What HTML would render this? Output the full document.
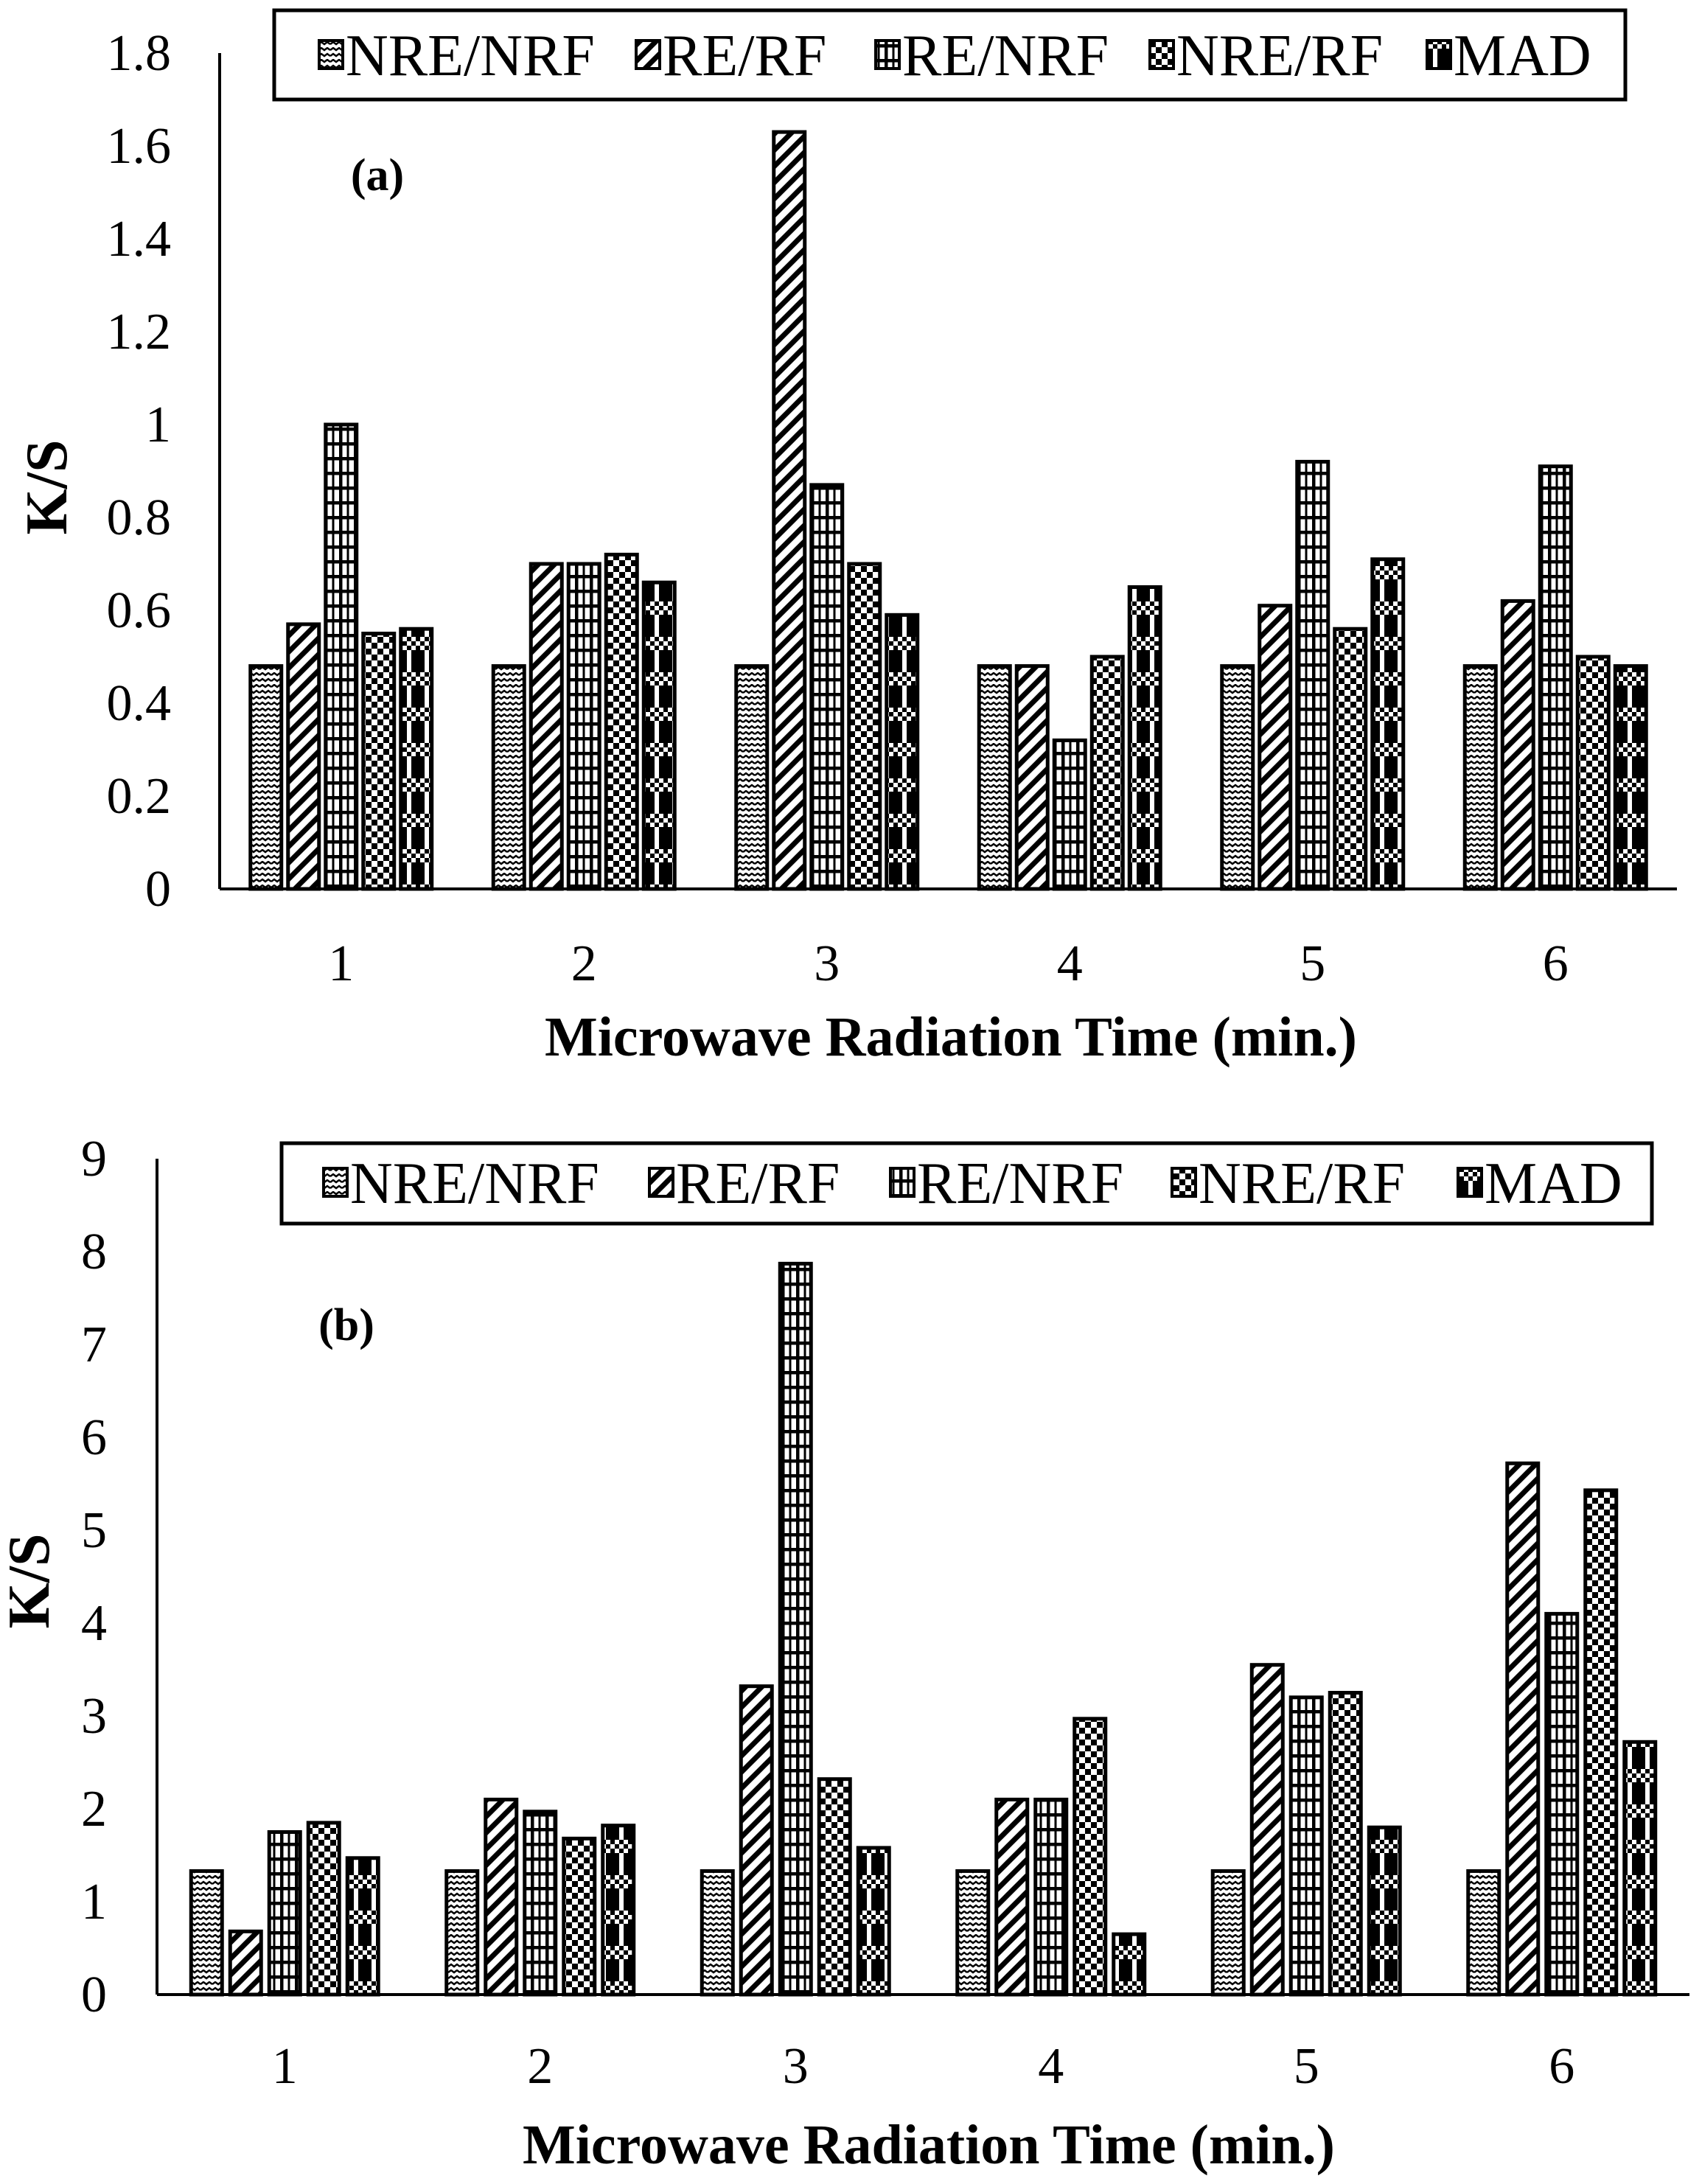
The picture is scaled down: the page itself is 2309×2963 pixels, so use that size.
<!DOCTYPE html>
<html><head><meta charset="utf-8">
<style>
html,body{margin:0;padding:0;background:#fff;}
svg{display:block;}
text{font-family:"Liberation Serif",serif;fill:#000;}
</style></head>
<body>
<svg id="chart" width="2309" height="2963" viewBox="0 0 2309 2963" xmlns="http://www.w3.org/2000/svg">
<defs>
  <pattern id="p0" width="16" height="16" patternUnits="userSpaceOnUse">
    <rect width="16" height="16" fill="#fff"/>
    <path d="M0 4 l4 -3 l4 3 l4 -3 l4 3 M0 12 l4 -3 l4 3 l4 -3 l4 3" stroke="#000" stroke-width="2.5" fill="none"/>
  </pattern>
  <pattern id="p1" width="22" height="22" patternUnits="userSpaceOnUse">
    <rect width="22" height="22" fill="#fff"/>
    <path d="M-6 28 L28 -6 M-17 17 L17 -17 M5 39 L39 5" stroke="#000" stroke-width="7"/>
  </pattern>
  <pattern id="p2" width="20" height="20" patternUnits="userSpaceOnUse">
    <rect width="20" height="20" fill="#fff"/>
    <path d="M0 2 H20 M2 0 V20" stroke="#000" stroke-width="5"/>
    <path d="M12 0 V20" stroke="#000" stroke-width="3"/>
  </pattern>
  <pattern id="p3" width="16" height="16" patternUnits="userSpaceOnUse">
    <rect width="16" height="16" fill="#fff"/>
    <rect width="8" height="8" fill="#000"/><rect x="8" y="8" width="8" height="8" fill="#000"/>
  </pattern>
  <pattern id="p4" width="24" height="48" patternUnits="userSpaceOnUse">
    <rect width="24" height="48" fill="#000"/>
    <rect x="0" y="0" width="24" height="18" fill="#fff"/>
    <rect width="6" height="6" fill="#000"/><rect x="12" width="6" height="6" fill="#000"/>
    <rect x="6" y="6" width="6" height="6" fill="#000"/><rect x="18" y="6" width="6" height="6" fill="#000"/>
    <rect y="12" width="6" height="6" fill="#000"/><rect x="12" y="12" width="6" height="6" fill="#000"/>
    <rect x="0" y="18" width="6" height="30" fill="#fff"/>
  </pattern>
</defs>
<g id="g"></g>
</svg>
<script>
const categories = ["1","2","3","4","5","6"];
const seriesNames = ["NRE/NRF","RE/RF","RE/NRF","NRE/RF","MAD"];
const aNRENRF = [0.48,0.48,0.48,0.48,0.48,0.48];
const aRERF   = [0.57,0.70,1.63,0.48,0.61,0.62];
const aRENRF  = [1.00,0.70,0.87,0.32,0.92,0.91];
const aNRERF  = [0.55,0.72,0.70,0.50,0.56,0.50];
const aMAD    = [0.56,0.66,0.59,0.65,0.71,0.48];
const bNRENRF = [1.33,1.33,1.33,1.33,1.33,1.33];
const bRERF   = [0.68,2.10,3.32,2.10,3.55,5.72];
const bRENRF  = [1.75,1.97,7.87,2.10,3.20,4.10];
const bNRERF  = [1.85,1.68,2.32,2.97,3.25,5.43];
const bMAD    = [1.47,1.82,1.58,0.65,1.80,2.72];
const aTicks = ["0","0.2","0.4","0.6","0.8","1","1.2","1.4","1.6","1.8"];
const bTicks = ["0","1","2","3","4","5","6","7","8","9"];

const NS="http://www.w3.org/2000/svg";
const root=document.getElementById('g');
function el(tag,attrs,parent,txt){const e=document.createElementNS(NS,tag);for(const k in attrs)e.setAttribute(k,attrs[k]);if(txt!==undefined)e.textContent=txt;(parent||root).appendChild(e);return e;}

function drawChart(cfg){
  const grp=el('g',{});
  
  
  const yMax=parseFloat(cfg.ticks[cfg.ticks.length-1]);
  const y=v=>cfg.base-(v/yMax)*(cfg.base-cfg.top);
  const step=(cfg.right-cfg.left)/categories.length;
  const xc=i=>cfg.left+step*(i+0.5);
  cfg.series.forEach((arr,s)=>{
    arr.forEach((v,i)=>{
      const cx=xc(i)+(s-2)*cfg.bstep;
      const r=el('rect',{x:cx-cfg.bw/2,y:y(v),width:cfg.bw,height:cfg.base-y(v),fill:'url(#p'+s+')',stroke:'#000','stroke-width':5},grp);
      
      
    });
  });
  const ya=el('line',{x1:cfg.left,y1:cfg.top,x2:cfg.left,y2:cfg.base,stroke:'#000','stroke-width':4},grp);
  
  
  const xa=el('line',{x1:cfg.left,y1:cfg.base,x2:cfg.right,y2:cfg.base,stroke:'#000','stroke-width':4},grp);
  
  
  cfg.ticks.forEach(t=>{
    const tt=el('text',{x:cfg.tickRight,y:y(parseFloat(t))+23,'text-anchor':'end','font-size':70},grp,t);
    
    
  });
  categories.forEach((c,i)=>{
    const tt=el('text',{x:xc(i),y:cfg.xlabY,'text-anchor':'middle','font-size':70},grp,c);
    
    
  });
  const xt=el('text',{x:cfg.xtitleX,y:cfg.xtitleY,'text-anchor':'middle','font-size':76,'font-weight':'bold'},grp,'Microwave Radiation Time (min.)');
  
  
  const yt=el('text',{x:cfg.ytX,y:cfg.ytY,'text-anchor':'middle','font-size':80,'font-weight':'bold',transform:'rotate(-90 '+cfg.ytX+' '+cfg.ytY+')'},grp,'K/S');
  
  
  const pl=el('text',{x:cfg.panelX,y:cfg.panelY,'text-anchor':'middle','font-size':62,'font-weight':'bold'},grp,cfg.panel);
  
  
  const lg=el('g',{},grp);
  
  
  el('rect',{x:cfg.lx,y:cfg.ly,width:cfg.lw,height:cfg.lh,fill:'#fff',stroke:'#000','stroke-width':5},lg);
  seriesNames.forEach((n,s)=>{
    const ex=cfg.lsw[s], my=cfg.lcy;
    const e=el('g',{},lg);
    
    
    el('rect',{x:ex,y:my-20,width:32,height:38,fill:'url(#p'+s+')',stroke:'#000','stroke-width':4},e);
    el('text',{x:ex+36,y:my+27,'font-size':80},e,n);
  });
}

drawChart({name:'chart-a',series:[aNRENRF,aRERF,aRENRF,aNRERF,aMAD],ticks:aTicks,
  left:298,right:2275,top:72,base:1206,bw:42,bstep:51,tickRight:232,xlabY:1330,xtitleX:1290,xtitleY:1432,
  ytX:90,ytY:661,panel:'(a)',panelX:512,panelY:258,lx:372,ly:14,lw:1833,lh:121,lcy:75,
  lsw:[433,863,1188,1560,1936]});
drawChart({name:'chart-b',series:[bNRENRF,bRERF,bRENRF,bNRERF,bMAD],ticks:bTicks,
  left:213,right:2292,top:1572,base:2706,bw:42,bstep:53,tickRight:145,xlabY:2826,xtitleX:1260,xtitleY:2935,
  ytX:66,ytY:2145,panel:'(b)',panelX:470,panelY:1818,lx:382,ly:1551,lw:1859,lh:109,lcy:1605,
  lsw:[439,881,1208,1590,1978]});
</script>
</body></html>
